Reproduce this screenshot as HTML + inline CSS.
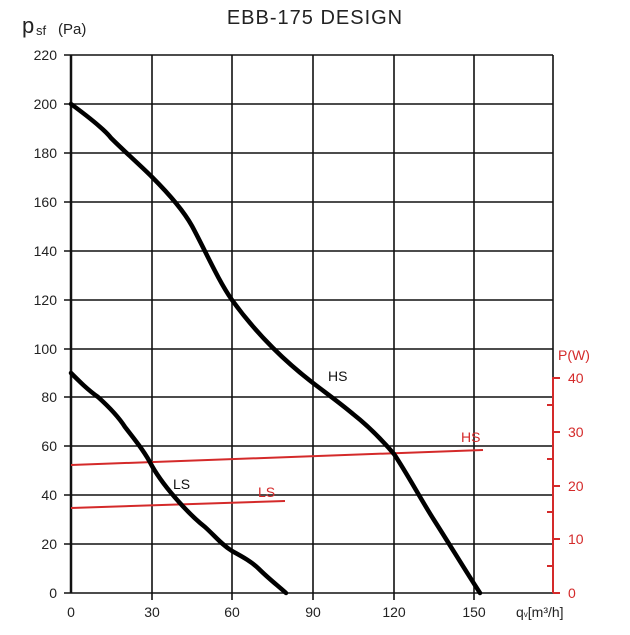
<!DOCTYPE html>
<html><head><style>body{margin:0;background:#fff}</style></head><body>
<svg width="630" height="630" xmlns="http://www.w3.org/2000/svg" font-family="Liberation Sans, sans-serif">
<rect width="630" height="630" fill="#fff"/>
<text x="315" y="24" font-size="20" text-anchor="middle" fill="#222" letter-spacing="1">EBB-175 DESIGN</text>
<text x="22" y="33" font-size="22" fill="#222">p</text>
<text x="36" y="35" font-size="13" fill="#222">sf</text>
<text x="58" y="34" font-size="15" fill="#222">(Pa)</text>
<g stroke="#111" stroke-width="1.6" fill="none">
<path d="M71,55H553M71,104H553M71,153H553M71,202H553M71,251H553M71,300H553M71,349H553M71,397H553M71,446H553M71,495H553M71,544H553M71,593H553"/>
<path d="M152,55V600M232,55V600M313,55V600M394,55V600M474,55V600M553,55V377"/>
<path d="M71,55V593" stroke-width="2.5"/>
<path d="M64,55H71M64,104H71M64,153H71M64,202H71M64,251H71M64,300H71M64,349H71M64,397H71M64,446H71M64,495H71M64,544H71M64,593H71"/>
</g>
<g font-size="14" fill="#222" text-anchor="end">
<text x="57" y="60">220</text><text x="57" y="109">200</text><text x="57" y="158">180</text><text x="57" y="207">160</text><text x="57" y="256">140</text><text x="57" y="305">120</text><text x="57" y="354">100</text><text x="57" y="402">80</text><text x="57" y="451">60</text><text x="57" y="500">40</text><text x="57" y="549">20</text><text x="57" y="598">0</text>
</g>
<g font-size="14" fill="#222" text-anchor="middle">
<text x="71" y="617">0</text><text x="152" y="617">30</text><text x="232" y="617">60</text><text x="313" y="617">90</text><text x="394" y="617">120</text><text x="474" y="617">150</text>
</g>
<text x="516" y="617" font-size="14" fill="#222">q<tspan font-size="8">v</tspan>[m³/h]</text>
<!-- red axis -->
<g stroke="#d42a2a" stroke-width="2" fill="none">
<path d="M553,377V593"/>
<path d="M553,378H560M553,432H560M553,486H560M553,539H560M553,593H560M553,405H547M553,459H547M553,512H547M553,566H547"/>
<path d="M71,465L483,450"/>
<path d="M71,508L285,501"/>
</g>
<g font-size="14" fill="#d42a2a">
<text x="568" y="383">40</text><text x="568" y="437">30</text><text x="568" y="491">20</text><text x="568" y="544">10</text><text x="568" y="598">0</text>
<text x="558" y="360">P(W)</text>
<text x="461" y="442">HS</text>
<text x="258" y="497">LS</text>
</g>
<g stroke="#000" stroke-width="4.5" fill="none" stroke-linejoin="round" stroke-linecap="round">
<path d="M71,104 C90,118 105,130 111,138 C125,152 140,165 152,177 C165,190 182,208 192,226 C205,250 218,280 232,300 C245,318 260,335 273,348 C285,360 300,373 313,383 C326,393 340,403 353,414 C367,425 382,440 394,454 C408,475 420,498 434,520 C450,545 465,570 480,593"/>
<path d="M71,373 C80,382 88,390 98,397 C108,406 118,416 125,427 C135,440 145,452 152,466 C160,480 170,492 179,502 C188,512 196,520 205,527 C215,536 222,545 232,551 C243,557 252,562 259,569 C268,578 277,585 286,593"/>
</g>
<text x="328" y="381" font-size="14" fill="#111">HS</text>
<text x="173" y="489" font-size="14" fill="#111">LS</text>
</svg>
</body></html>
